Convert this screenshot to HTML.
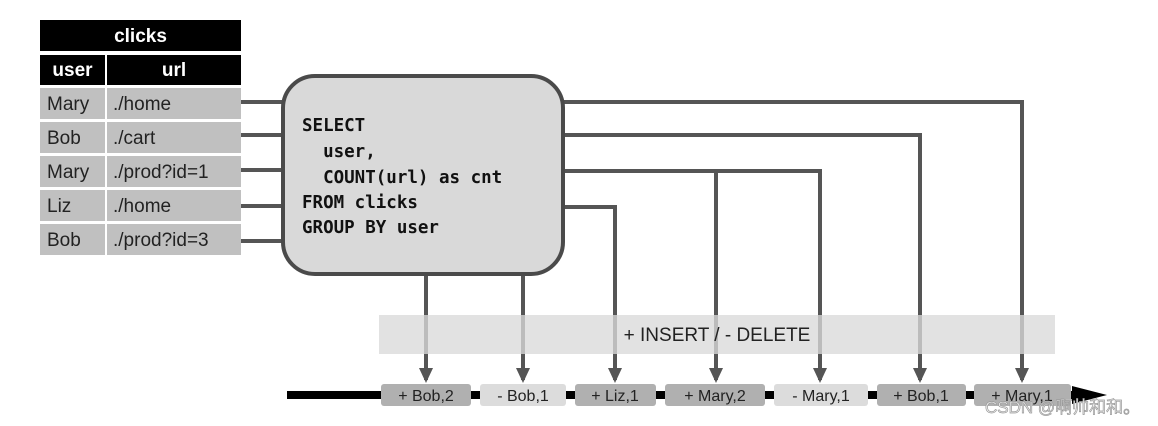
<!DOCTYPE html>
<html><head><meta charset="utf-8"><style>
html,body{margin:0;padding:0;background:#fff;}
svg{display:block;}
</style></head><body>
<svg width="1158" height="426" viewBox="0 0 1158 426" xmlns="http://www.w3.org/2000/svg" font-family="Liberation Sans, sans-serif">
<!-- table -->
<rect x="40" y="20" width="201" height="31" fill="#000"/>
<text x="140.5" y="42" font-size="19" font-weight="bold" fill="#fff" text-anchor="middle">clicks</text>
<rect x="40" y="55" width="65" height="30" fill="#000"/>
<rect x="107" y="55" width="134" height="30" fill="#000"/>
<text x="72.5" y="76" font-size="19" font-weight="bold" fill="#fff" text-anchor="middle">user</text>
<text x="174" y="76" font-size="19" font-weight="bold" fill="#fff" text-anchor="middle">url</text>
<g fill="#c0c0c0">
<rect x="40" y="88" width="65" height="31"/><rect x="107" y="88" width="134" height="31"/>
<rect x="40" y="122" width="65" height="31"/><rect x="107" y="122" width="134" height="31"/>
<rect x="40" y="156" width="65" height="31"/><rect x="107" y="156" width="134" height="31"/>
<rect x="40" y="190" width="65" height="31"/><rect x="107" y="190" width="134" height="31"/>
<rect x="40" y="224" width="65" height="31"/><rect x="107" y="224" width="134" height="31"/>
</g>
<g font-size="19" fill="#222">
<text x="47" y="110">Mary</text><text x="113" y="110">./home</text>
<text x="47" y="144">Bob</text><text x="113" y="144">./cart</text>
<text x="47" y="178">Mary</text><text x="113" y="178">./prod?id=1</text>
<text x="47" y="212">Liz</text><text x="113" y="212">./home</text>
<text x="47" y="246">Bob</text><text x="113" y="246">./prod?id=3</text>
</g>
<!-- connectors -->
<g stroke="#555" stroke-width="4" fill="none">
<path d="M241 102H283M241 135H283M241 170H283M241 206H283M241 241H283"/>
<path d="M560 102H1022V380"/>
<path d="M560 135H920V380"/>
<path d="M560 171H820V380"/>
<path d="M716 171V380"/>
<path d="M560 207H615V380"/>
<path d="M426 273V380M523 273V380"/>
</g>
<g fill="#555">
<polygon points="419,368 433,368 426,383"/>
<polygon points="516,368 530,368 523,383"/>
<polygon points="608,368 622,368 615,383"/>
<polygon points="709,368 723,368 716,383"/>
<polygon points="813,368 827,368 820,383"/>
<polygon points="913,368 927,368 920,383"/>
<polygon points="1015,368 1029,368 1022,383"/>
</g>
<!-- query box -->
<rect x="283" y="76" width="280" height="198" rx="32" fill="#d9d9d9" stroke="#4a4a4a" stroke-width="4"/>
<g font-family="DejaVu Sans Mono, Liberation Mono, monospace" font-weight="bold" font-size="17.5" fill="#111">
<text x="302" y="131">SELECT</text>
<text x="302" y="157" xml:space="preserve">  user,</text>
<text x="302" y="183" xml:space="preserve">  COUNT(url) as cnt</text>
<text x="302" y="208">FROM clicks</text>
<text x="302" y="233">GROUP BY user</text>
</g>
<!-- band -->
<rect x="379" y="315" width="676" height="39" fill="#dadada" opacity="0.78"/>
<text x="717" y="341" font-size="19" fill="#222" text-anchor="middle">+ INSERT / - DELETE</text>
<!-- timeline -->
<rect x="287" y="391" width="790" height="8" fill="#000"/>
<polygon points="1072,386 1107,395 1072,404" fill="#000"/>
<g>
<rect x="381" y="384" width="90" height="22" rx="3" fill="#b0b0b0"/>
<rect x="480" y="384" width="86" height="22" rx="3" fill="#dcdcdc"/>
<rect x="575" y="384" width="81" height="22" rx="3" fill="#b0b0b0"/>
<rect x="665" y="384" width="100" height="22" rx="3" fill="#b0b0b0"/>
<rect x="774" y="384" width="94" height="22" rx="3" fill="#dcdcdc"/>
<rect x="877" y="384" width="89" height="22" rx="3" fill="#b0b0b0"/>
<rect x="974" y="384" width="97" height="22" rx="3" fill="#b0b0b0"/>
</g>
<g font-size="16" fill="#222" text-anchor="middle">
<text x="426" y="401">+ Bob,2</text>
<text x="523" y="401">- Bob,1</text>
<text x="615" y="401">+ Liz,1</text>
<text x="715" y="401">+ Mary,2</text>
<text x="821" y="401">- Mary,1</text>
<text x="921" y="401">+ Bob,1</text>
<text x="1022" y="401">+ Mary,1</text>
</g>
<text x="985" y="413" font-family="Liberation Sans, Noto Sans CJK SC, sans-serif" font-size="17" fill="#f4f4f4" stroke="#999" stroke-width="0.7">CSDN @啊帅和和。</text>
</svg>
</body></html>
